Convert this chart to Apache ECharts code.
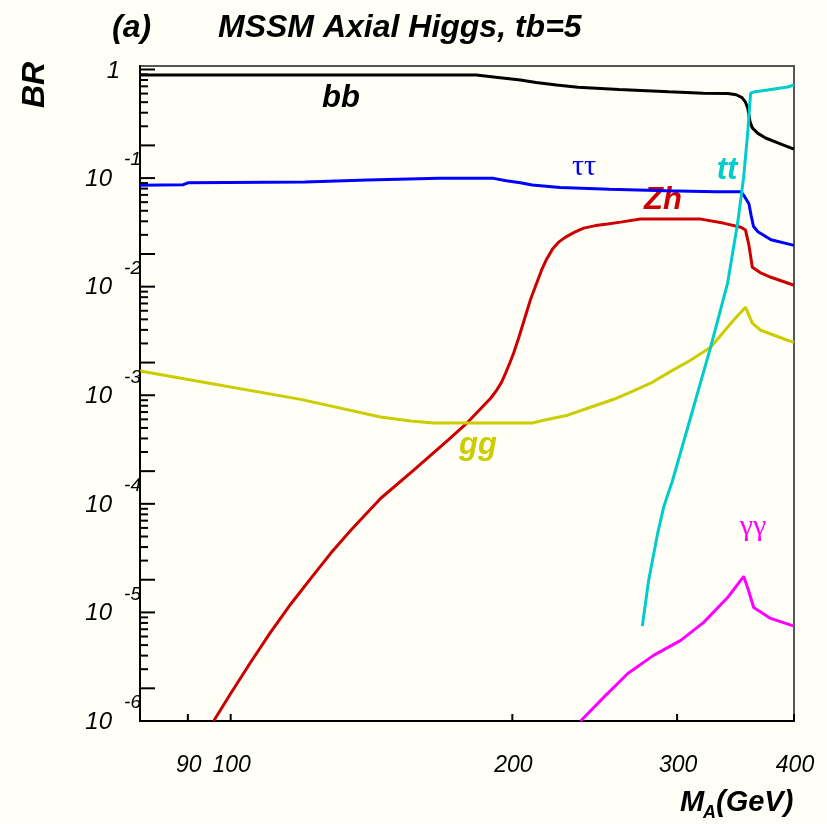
<!DOCTYPE html>
<html>
<head>
<meta charset="utf-8">
<script src="https://cdn.jsdelivr.net/npm/echarts@6/dist/echarts.min.js"></script>
<style>
  html, body { margin: 0; padding: 0; background: #fffff8; }
  #chart { width: 827px; height: 824px; }
</style>
</head>
<body>
<div id="chart"></div>
<script>
// Axis ranges
const X_MIN = 80, X_MAX = 400;
const Y_MIN = 1e-6, Y_MAX = 1.077;

// Tick values and labels
const xTickValues = [90, 100, 200, 300, 400];
const xTickLabels = ['90', '100', '200', '300', '400'];
const yDecadeValues = [1e-6, 1e-5, 1e-4, 1e-3, 1e-2, 1e-1, 1];
const yDecadeExponents = ['-6', '-5', '-4', '-3', '-2', '-1', ''];

// A -> b bbar
const massBB = [80, 183, 192, 204, 212, 223, 235, 260, 294, 320, 340, 347, 352, 355, 357, 359, 361, 366, 373, 385, 400];
const brBB   = [0.89, 0.89, 0.85, 0.80, 0.76, 0.72, 0.685, 0.655, 0.624, 0.605, 0.60, 0.585, 0.55, 0.50, 0.44, 0.33, 0.29, 0.258, 0.234, 0.21, 0.185];

// A -> tau tau
const massTauTau = [80, 89, 90, 120, 140, 167, 191, 197, 204, 210, 225, 254, 292, 330, 351, 354, 358, 360, 362, 366, 378, 400];
const brTauTau   = [0.086, 0.087, 0.0905, 0.092, 0.096, 0.0994, 0.0994, 0.0944, 0.0905, 0.0862, 0.0821, 0.079, 0.0764, 0.0748, 0.0748, 0.068, 0.058, 0.045, 0.036, 0.032, 0.027, 0.024];

// A -> Z h
const massZh = [95.9, 100, 105, 110.3, 115.9, 121.8, 127.9, 134.4, 144.6, 156.9, 170.6, 179.2, 189.6, 192.4, 194.8, 196.7, 198.7, 200.6, 203.1, 206.2, 209.2, 212.3, 214.9, 217.6, 220.8, 224.1, 228, 233.2, 238.4, 245.5, 252.8, 261.1, 274, 318, 336, 351, 355, 358, 361, 368, 378, 400];
const brZh   = [1e-6, 1.79e-6, 3.46e-6, 6.54e-6, 1.19e-5, 2.06e-5, 3.5e-5, 5.7e-5, 1.12e-4, 2.04e-4, 3.85e-4, 5.63e-4, 9.38e-4, 1.11e-3, 1.32e-3, 1.6e-3, 1.97e-3, 2.44e-3, 3.35e-3, 5.12e-3, 7.67e-3, 0.01076, 0.01419, 0.0179, 0.0222, 0.0257, 0.0286, 0.0318, 0.0346, 0.0365, 0.0377, 0.0393, 0.0419, 0.0419, 0.0385, 0.0353, 0.0332, 0.0241, 0.0151, 0.0135, 0.0122, 0.0103];

// A -> g g
const massGG = [80, 92.9, 118.8, 144.6, 155.7, 164.8, 210.2, 216, 229.2, 240.7, 256.7, 267.6, 281.1, 295.3, 310.1, 325.8, 344.7, 355, 361, 368.5, 393.7, 400];
const brGG   = [1.67e-3, 1.33e-3, 9.16e-4, 6.31e-4, 5.79e-4, 5.56e-4, 5.56e-4, 5.89e-4, 6.55e-4, 7.59e-4, 9.18e-4, 1.07e-3, 1.29e-3, 1.66e-3, 2.1e-3, 2.77e-3, 4.91e-3, 6.47e-3, 4.61e-3, 3.97e-3, 3.21e-3, 3.07e-3];

// A -> t tbar
const massTT = [275.4, 279.7, 286, 290.2, 296.7, 311.7, 325.8, 339.7, 348.2, 353.4, 356.9, 359.5, 362, 374.8, 393.7, 400];
const brTT   = [7.48e-6, 1.97e-5, 5.35e-5, 9.29e-5, 1.65e-4, 7.27e-4, 2.77e-3, 0.0108, 0.0385, 0.102, 0.26, 0.607, 0.62, 0.647, 0.69, 0.72];

// A -> gamma gamma
const massGamGam = [236.6, 250.4, 265.7, 283.1, 302.7, 320.3, 339.7, 353.4, 357.6, 362.2, 377.7, 400];
const brGamGam   = [1e-6, 1.65e-6, 2.74e-6, 4.02e-6, 5.52e-6, 8.09e-6, 1.37e-5, 2.15e-5, 1.6e-5, 1.11e-5, 8.81e-6, 7.48e-6];

const zip = (xs, ys) => xs.map((x, i) => [x, ys[i]]);

const FONT = '"Liberation Sans", Arial, sans-serif';
const SERIF = '"Liberation Serif", "DejaVu Serif", serif';

function curve(name, xs, ys, color) {
  return {
    name: name,
    type: 'line',
    data: zip(xs, ys),
    showSymbol: false,
    symbol: 'none',
    clip: true,
    lineStyle: { color: color, width: 3 },
    z: 3
  };
}

// Ticks and labels of the log-scaled BR axis (decades + 2..9 subdivisions)
function renderYTicks(params, api) {
  const i = params.dataIndex;
  const v = api.value(1);
  const p = api.coord([X_MIN, v]);
  const children = [];
  children.push({ type: 'line', shape: { x1: p[0], y1: p[1], x2: p[0] + 15, y2: p[1] },
                  style: { stroke: '#000', lineWidth: 2 } });
  if (i < yDecadeValues.length - 1) {
    for (let k = 2; k <= 9; k++) {
      const q = api.coord([X_MIN, v * k]);
      const len = k === 2 ? 15 : 8;
      children.push({ type: 'line', shape: { x1: q[0], y1: q[1], x2: q[0] + len, y2: q[1] },
                      style: { stroke: '#000', lineWidth: 2 } });
    }
  }
  const exp = yDecadeExponents[i];
  if (exp) {
    children.push({ type: 'text', style: { text: '10', x: p[0] - 28, y: p[1] + 1, align: 'right', verticalAlign: 'middle',
                    font: 'italic 24px ' + FONT, fill: '#000' } });
    children.push({ type: 'text', style: { text: exp, x: p[0] + 1, y: p[1] - 18, align: 'right', verticalAlign: 'middle',
                    font: 'italic 19px ' + FONT, fill: '#000' } });
  } else {
    children.push({ type: 'text', style: { text: '1', x: p[0] - 20, y: p[1] + 2, align: 'right', verticalAlign: 'middle',
                    font: 'italic 24px ' + FONT, fill: '#000' } });
  }
  return { type: 'group', children: children };
}

// Ticks and labels of the mass axis
function renderXTicks(params, api) {
  const i = params.dataIndex;
  const p = api.coord([api.value(0), Y_MIN]);
  return {
    type: 'group',
    children: [
      { type: 'line', shape: { x1: p[0], y1: p[1], x2: p[0], y2: p[1] - 7 }, style: { stroke: '#000', lineWidth: 2 } },
      { type: 'text', style: { text: xTickLabels[i], x: p[0] + 1, y: p[1] + 45, align: 'center', verticalAlign: 'middle',
                               font: 'italic 23px ' + FONT, fill: '#000' } }
    ]
  };
}

const chart = echarts.init(document.getElementById('chart'), null, { renderer: 'canvas' });

chart.setOption({
  animation: false,
  backgroundColor: '#fffff8',
  grid: { left: 140, right: 33, top: 66, bottom: 103, show: true, borderColor: '#555', borderWidth: 2, backgroundColor: 'transparent' },
  xAxis: {
    type: 'log', logBase: 10, min: X_MIN, max: X_MAX,
    axisLine: { show: true, lineStyle: { color: '#000', width: 2 } },
    axisTick: { show: false }, axisLabel: { show: false }, splitLine: { show: false }
  },
  yAxis: {
    type: 'log', logBase: 10, min: Y_MIN, max: Y_MAX,
    axisLine: { show: true, lineStyle: { color: '#000', width: 2 } },
    axisTick: { show: false }, axisLabel: { show: false }, splitLine: { show: false }
  },
  graphic: [
    { type: 'text', x: 112, y: 28, style: { text: '(a)', font: 'italic bold 32px ' + FONT, fill: '#000', verticalAlign: 'middle' } },
    { type: 'text', x: 218, y: 28, style: { text: 'MSSM Axial Higgs, tb=5', font: 'italic bold 32px ' + FONT, fill: '#000', verticalAlign: 'middle' } },
    { type: 'text', x: 35, y: 85, rotation: Math.PI / 2, style: { text: 'BR', font: 'italic bold 32px ' + FONT, fill: '#000', align: 'center', verticalAlign: 'middle' } },
    { type: 'text', x: 680, y: 803, style: { text: 'M', font: 'italic bold 29px ' + FONT, fill: '#000', verticalAlign: 'middle' } },
    { type: 'text', x: 703, y: 813, style: { text: 'A', font: 'italic bold 18px ' + FONT, fill: '#000', verticalAlign: 'middle' } },
    { type: 'text', x: 716, y: 803, style: { text: '(GeV)', font: 'italic bold 29px ' + FONT, fill: '#000', verticalAlign: 'middle' } },
    { type: 'text', x: 341, y: 98, style: { text: 'bb', font: 'italic bold 31px ' + FONT, fill: '#000', align: 'center', verticalAlign: 'middle' } },
    { type: 'text', x: 584, y: 167, style: { text: 'ττ', font: '30px ' + SERIF, fill: '#0000ff', align: 'center', verticalAlign: 'middle' } },
    { type: 'text', x: 727, y: 170, style: { text: 'tt', font: 'italic bold 31px ' + FONT, fill: '#00cccc', align: 'center', verticalAlign: 'middle' } },
    { type: 'text', x: 663, y: 200, style: { text: 'Zh', font: 'italic bold 31px ' + FONT, fill: '#cc0000', align: 'center', verticalAlign: 'middle' } },
    { type: 'text', x: 478, y: 445, style: { text: 'gg', font: 'italic bold 31px ' + FONT, fill: '#cccc00', align: 'center', verticalAlign: 'middle' } },
    { type: 'text', x: 753, y: 527, style: { text: 'γγ', font: '30px ' + SERIF, fill: '#ff00ff', align: 'center', verticalAlign: 'middle' } }
  ],
  series: [
    curve('bb', massBB, brBB, '#000000'),
    curve('tautau', massTauTau, brTauTau, '#0000ff'),
    curve('Zh', massZh, brZh, '#cc0000'),
    curve('gg', massGG, brGG, '#cccc00'),
    curve('tt', massTT, brTT, '#00cccc'),
    curve('gammagamma', massGamGam, brGamGam, '#ff00ff'),
    {
      type: 'custom', coordinateSystem: 'cartesian2d', silent: true, clip: false, z: 5,
      data: yDecadeValues.map(v => [X_MIN, v]),
      renderItem: renderYTicks
    },
    {
      type: 'custom', coordinateSystem: 'cartesian2d', silent: true, clip: false, z: 5,
      data: xTickValues.map(v => [v, Y_MIN]),
      renderItem: renderXTicks
    }
  ]
});
</script>
</body>
</html>
